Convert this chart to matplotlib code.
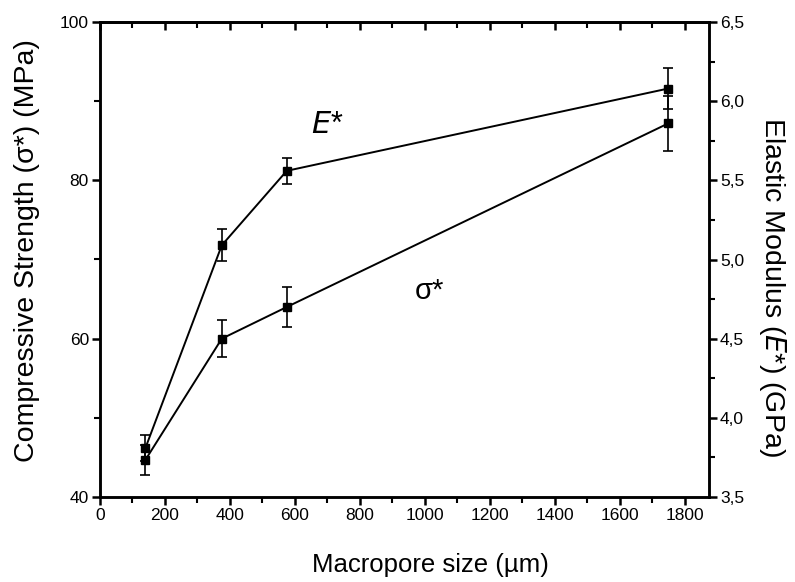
import matplotlib
matplotlib.use("Agg")
import matplotlib.pyplot as plt
from matplotlib.ticker import MultipleLocator, FuncFormatter

# macropore size (um)
pore_size = [140, 375, 575, 1750]
# compressive strength sigma* (MPa)
sigma = [44.7, 60.0, 64.0, 87.2]
sigma_err = [1.9, 2.3, 2.5, 3.5]
# elastic modulus E* (GPa)
modulus = [3.81, 5.09, 5.56, 6.08]
modulus_err = [0.08, 0.10, 0.08, 0.13]

plt.rcParams['font.family'] = ['Liberation Sans', 'DejaVu Sans']

fig = plt.figure(figsize=(7.95, 5.82), dpi=100)
ax1 = fig.add_axes([100 / 795, 1 - 497 / 582, 609 / 795, 475 / 582])
ax2 = ax1.twinx()

ax1.errorbar(pore_size, sigma, yerr=sigma_err, color='black', lw=1.4,
             marker='s', ms=6, capsize=3.5, elinewidth=1.2, capthick=1.2)
ax2.errorbar(pore_size, modulus, yerr=modulus_err, color='black', lw=1.4,
             marker='s', ms=6, capsize=3.5, elinewidth=1.2, capthick=1.2)

ax1.set_xlim(0, 1875)
ax1.set_ylim(40, 100)
ax2.set_ylim(3.5, 6.5)

ax1.xaxis.set_major_locator(MultipleLocator(200))
ax1.xaxis.set_minor_locator(MultipleLocator(100))
ax1.yaxis.set_major_locator(MultipleLocator(20))
ax1.yaxis.set_minor_locator(MultipleLocator(10))
ax2.yaxis.set_major_locator(MultipleLocator(0.5))
ax2.yaxis.set_minor_locator(MultipleLocator(0.25))
ax2.yaxis.set_major_formatter(FuncFormatter(lambda v, p: f"{v:.1f}".replace('.', ',')))

for ax in (ax1, ax2):
    for s in ax.spines.values():
        s.set_linewidth(1.8)
    ax.tick_params(which='major', length=6, width=1.8, labelsize=12.5, pad=2)
    ax.tick_params(which='minor', length=4, width=1.5)

top = ax1.secondary_xaxis('top')
top.xaxis.set_major_locator(MultipleLocator(200))
top.xaxis.set_minor_locator(MultipleLocator(100))
top.tick_params(which='both', direction='in', labeltop=False)
top.tick_params(which='major', length=6, width=1.8)
top.tick_params(which='minor', length=4, width=1.5)
top.spines['top'].set_linewidth(1.8)

ax1.set_xlabel('Macropore size (\u00b5m)', fontsize=18.5, va='center', ha='center')
ax1.xaxis.set_label_coords(0.542, -0.143)
ax1.set_ylabel('Compressive Strength (\u03c3*) (MPa)', fontsize=20.5, va='center', ha='center')
ax1.yaxis.set_label_coords(-0.12, 0.518)
ax2.set_ylabel('Elastic Modulus ($\\it{E}$*) (GPa)', fontsize=20.5, rotation=270,
               va='center', ha='center')
ax2.yaxis.set_label_coords(1.105, 0.442)

ax1.text(700, 87, '$\\it{E}$*', fontsize=22, ha='center', va='center')
ax1.text(1015, 66, '\u03c3*', fontsize=21, ha='center', va='center')

fig.savefig('out.png', dpi=100)
